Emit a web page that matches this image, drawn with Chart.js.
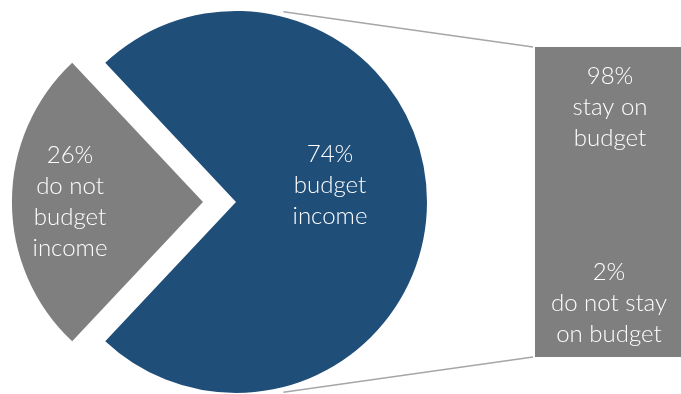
<!DOCTYPE html>
<html>
<head>
<meta charset="utf-8">
<script src="https://cdn.jsdelivr.net/npm/chart.js@4/dist/chart.umd.min.js"></script>
<style>
  html, body { margin: 0; padding: 0; background: #fff; }
  #wrap { position: relative; width: 681px; height: 394px; }
  #wrap canvas { position: absolute; left: 0; top: 0; }
</style>
</head>
<body>
<div id="wrap">
  <canvas id="pieChart" width="681" height="394"></canvas>
  <canvas id="barChart" width="681" height="394"></canvas>
</div>
<script>
// income budgeting split (pie)
const pieCategories = ['do not budget income', 'budget income'];
const pieValues = [26, 74];
const pieLabels = [['26%', 'do not', 'budget', 'income'], ['74%', 'budget', 'income']];

// of those who budget: staying on budget (bar)
const barCategories = ['do not stay on budget', 'stay on budget'];
const barValues = [2, 98];
const barLabels = [['2%', 'do not stay', 'on budget'], ['98%', 'stay on', 'budget']];

const BLUE = '#1F4E79';
const GREY = '#7F7F7F';
const LINE_GREY = '#A6A6A6';
const labelFont = '300 24px Lato, "Open Sans", sans-serif';
const lineGap = 31;

function drawLines(ctx, lines, x, y) {
  ctx.save();
  ctx.font = labelFont;
  ctx.fillStyle = '#ffffff';
  ctx.textAlign = 'center';
  ctx.textBaseline = 'alphabetic';
  lines.forEach((line, i) => ctx.fillText(line, x, y + i * lineGap));
  ctx.restore();
}

// grey slice centred on the left side of the pie
const rotation = 270 - pieValues[0] * 3.6 / 2;

const pieLabelPlugin = {
  id: 'pieLabels',
  afterDatasetsDraw(chart) {
    const arcs = chart.getDatasetMeta(0).data;
    drawLines(chart.ctx, pieLabels[0], arcs[0].x - 166, arcs[0].y - 39);
    drawLines(chart.ctx, pieLabels[1], arcs[1].x + 94, arcs[1].y - 40);
  }
};

const pieChart = new Chart(document.getElementById('pieChart'), {
  type: 'pie',
  data: {
    labels: pieCategories,
    datasets: [{
      data: pieValues,
      backgroundColor: [GREY, BLUE],
      borderWidth: 0,
      offset: [132, 0],
      radius: 191
    }]
  },
  options: {
    responsive: false,
    animation: false,
    events: [],
    rotation: rotation,
    layout: { padding: { left: 0, right: 209, top: 10, bottom: 0 } },
    plugins: { legend: { display: false }, tooltip: { enabled: false } }
  },
  plugins: [pieLabelPlugin]
});

// connector lines from just outside the pie edge to the bar corners
const connectorPlugin = {
  id: 'connectors',
  beforeDatasetsDraw(chart) {
    const arc = pieChart.getDatasetMeta(0).data[1];
    const r = arc.outerRadius + 5;
    const top = chart.getDatasetMeta(1).data[0];
    const bottom = chart.getDatasetMeta(0).data[0];
    const left = top.x - top.width / 2;
    const a = 14 * Math.PI / 180; // measured from the top of the pie
    const ctx = chart.ctx;
    ctx.save();
    ctx.strokeStyle = LINE_GREY;
    ctx.lineWidth = 1.5;
    ctx.beginPath();
    ctx.moveTo(arc.x + r * Math.sin(a), arc.y - r * Math.cos(a));
    ctx.lineTo(left - 2, top.y);
    ctx.moveTo(arc.x + r * Math.sin(a), arc.y + r * Math.cos(a));
    ctx.lineTo(left - 2, bottom.base);
    ctx.stroke();
    ctx.restore();
  },
  afterDatasetsDraw(chart) {
    const low = chart.getDatasetMeta(0).data[0];
    const high = chart.getDatasetMeta(1).data[0];
    drawLines(chart.ctx, barLabels[1], high.x + 2, high.y + 37);
    drawLines(chart.ctx, barLabels[0], low.x + 1, low.base - 77);
  }
};

new Chart(document.getElementById('barChart'), {
  type: 'bar',
  data: {
    labels: [''],
    datasets: barCategories.map((name, i) => ({
      label: name,
      data: [barValues[i]],
      backgroundColor: GREY,
      borderWidth: 0,
      barPercentage: 1,
      categoryPercentage: 1
    }))
  },
  options: {
    responsive: false,
    animation: false,
    events: [],
    layout: { padding: { left: 535, right: 0, top: 47, bottom: 37 } },
    scales: {
      x: { stacked: true, display: false },
      y: { stacked: true, display: false, min: 0, max: 100 }
    },
    plugins: { legend: { display: false }, tooltip: { enabled: false } }
  },
  plugins: [connectorPlugin]
});
</script>
</body>
</html>
